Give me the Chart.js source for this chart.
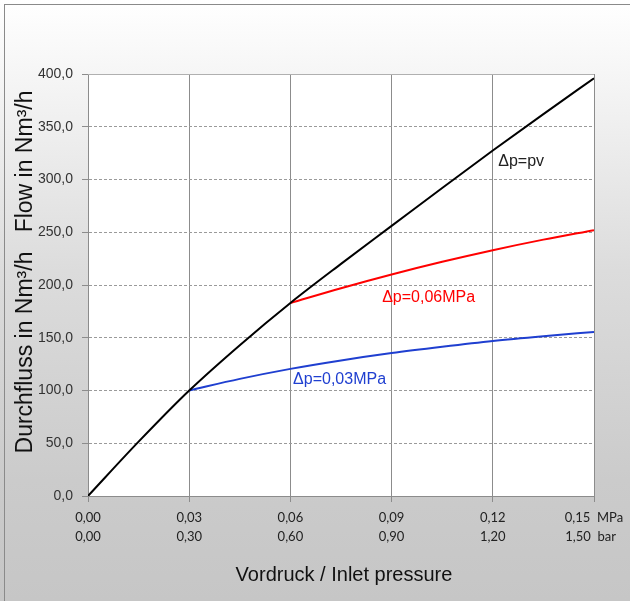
<!DOCTYPE html>
<html>
<head>
<meta charset="utf-8">
<script src="https://cdn.jsdelivr.net/npm/chart.js@4.4.0/dist/chart.umd.min.js"></script>
<style>
  html, body { margin: 0; padding: 0; }
  body { width: 630px; height: 601px; overflow: hidden; position: relative;
         background: linear-gradient(to bottom, #ffffff 0%, #f6f6f6 12%, #dcdcdc 45%, #cbcbcb 80%, #c6c6c6 100%); }
  #frame { position: absolute; left: 4px; top: 4px; width: 660px; height: 640px;
           border: 1px solid #8a8a8a; box-sizing: border-box; }
  #wrap { position: absolute; left: 0; top: 0; width: 630px; height: 601px; }
</style>
</head>
<body>
<div id="frame"></div>
<div id="wrap"><canvas id="flowChart"></canvas></div>
<script>
// Werte
const pressureMPa = [0, 0.015, 0.03, 0.045, 0.06, 0.075, 0.09, 0.105, 0.12, 0.135, 0.15];
const flowPv      = [0, 51.5, 100, 143, 183, 220, 256, 292, 327.5, 362, 396];

const pressure06  = [0.06, 0.075, 0.09, 0.105, 0.12, 0.135, 0.15];
const flow06      = [183, 197, 210, 222, 233, 243, 252];

const pressure03  = [0.03, 0.045, 0.06, 0.075, 0.09, 0.105, 0.12, 0.135, 0.15];
const flow03      = [100, 111, 120.5, 128.5, 135.5, 141.5, 147, 151.5, 155.5];

const seriesNames  = ['\u0394p=pv', '\u0394p=0,06MPa', '\u0394p=0,03MPa'];
const seriesColors = ['#000000', '#ff0000', '#1f3fd0'];
// Lage der Beschriftungen (in Achsenwerten)
const labelX = [0.1216, 0.0872, 0.0608];
const labelY = [316.5, 188.5, 110];

const yTitle = 'Durchfluss in Nm\u00b3/h   Flow in Nm\u00b3/h';
const xTitle = 'Vordruck / Inlet pressure';

function toPoints(xs, ys) {
    return xs.map(function(x, i) { return { x: x, y: ys[i] }; });
}

function fmt(v, d) {
    return v.toFixed(d).replace('.', ',');
}

// Hintergrund der Zeichenfläche, Rahmen, Beschriftungen
const plotDecor = {
    id: 'plotDecor',
    beforeDraw: function(chart) {
        const a = chart.chartArea, ctx = chart.ctx;
        ctx.save();
        ctx.fillStyle = '#ffffff';
        ctx.fillRect(a.left, a.top, a.right - a.left, a.bottom - a.top);
        ctx.restore();
    },
    afterDatasetsDraw: function(chart) {
        const ctx = chart.ctx;
        const xs = chart.scales.x, ys = chart.scales.y;
        ctx.save();
        ctx.font = '16px "Liberation Sans", Arial, sans-serif';
        ctx.textAlign = 'left';
        ctx.textBaseline = 'middle';
        for (let i = 0; i < seriesNames.length; i++) {
            ctx.fillStyle = i === 0 ? '#222222' : seriesColors[i];
            ctx.fillText(seriesNames[i], xs.getPixelForValue(labelX[i]), ys.getPixelForValue(labelY[i]));
        }
        ctx.restore();
    },
    afterDraw: function(chart) {
        const a = chart.chartArea, ctx = chart.ctx;
        ctx.save();
        ctx.strokeStyle = '#b0b0b0';
        ctx.lineWidth = 1;
        ctx.beginPath();
        ctx.moveTo(a.left, a.top + 0.5);
        ctx.lineTo(a.right, a.top + 0.5);
        ctx.stroke();

        ctx.fillStyle = '#111111';
        ctx.font = '20px "Liberation Sans", Arial, sans-serif';
        ctx.textAlign = 'center';
        ctx.textBaseline = 'middle';
        ctx.fillText(xTitle, 344, 575);

        ctx.translate(26, 272);
        ctx.rotate(-Math.PI / 2);
        ctx.font = '23px "Liberation Sans", Arial, sans-serif';
        ctx.fillText(yTitle, 0, 0);
        ctx.restore();
    }
};

new Chart(document.getElementById('flowChart'), {
    type: 'scatter',
    data: {
        datasets: [
            { label: seriesNames[0], data: toPoints(pressureMPa, flowPv) },
            { label: seriesNames[1], data: toPoints(pressure06, flow06) },
            { label: seriesNames[2], data: toPoints(pressure03, flow03) }
        ].map(function(ds, i) {
            ds.showLine = true;
            ds.borderColor = seriesColors[i];
            ds.backgroundColor = seriesColors[i];
            ds.borderWidth = 2;
            ds.pointRadius = 0;
            ds.cubicInterpolationMode = 'monotone';
            return ds;
        })
    },
    options: {
        responsive: true,
        maintainAspectRatio: false,
        animation: false,
        layout: { padding: { left: 0, right: 36, top: 74, bottom: 0 } },
        plugins: {
            legend: { display: false },
            tooltip: { enabled: false }
        },
        scales: {
            x: {
                type: 'linear',
                min: 0,
                max: 0.15,
                afterFit: function(scale) { scale.height = 105; },
                ticks: {
                    stepSize: 0.03,
                    maxRotation: 0,
                    autoSkip: false,
                    padding: 6,
                    color: '#222222',
                    font: { family: 'Lato, "Open Sans", sans-serif', size: 13, lineHeight: 1.5 },
                    callback: function(v) {
                        const last = Math.abs(v - 0.15) < 1e-9;
                        const mpa = fmt(v, 2), bar = fmt(v * 10, 2);
                        return last ? [mpa + '  MPa', bar + '  bar  '] : [mpa, bar];
                    }
                },
                grid: { color: '#8c8c8c', lineWidth: 1, tickLength: 6, tickColor: '#8c8c8c' },
                border: { display: true, color: '#8c8c8c', width: 1 }
            },
            y: {
                min: 0,
                max: 400,
                afterFit: function(scale) { scale.width = 88; },
                ticks: {
                    stepSize: 50,
                    padding: 9,
                    color: '#333333',
                    font: { family: '"Liberation Sans", Arial, sans-serif', size: 14 },
                    callback: function(v) { return fmt(v, 1); }
                },
                grid: { color: '#9a9a9a', lineWidth: 1, tickLength: 6, tickColor: '#8c8c8c' },
                border: { display: true, color: '#8c8c8c', width: 1, dash: [3, 2] }
            }
        }
    },
    plugins: [plotDecor]
});
</script>
</body>
</html>
